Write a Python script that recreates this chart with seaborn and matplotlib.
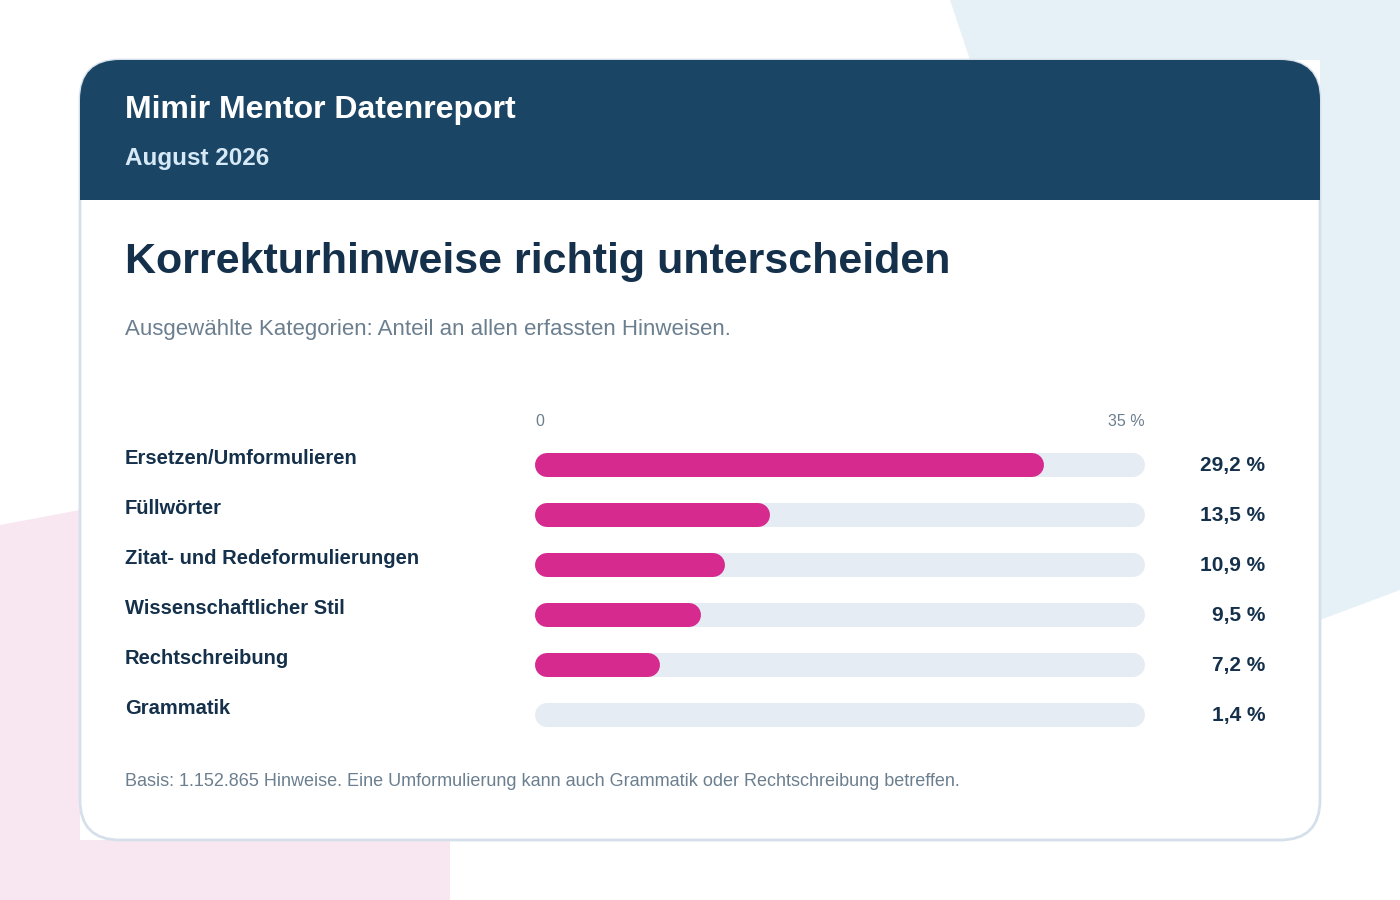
import matplotlib
matplotlib.use("Agg")
import matplotlib.pyplot as plt
from matplotlib.patches import FancyBboxPatch, Polygon, Rectangle
import seaborn as sns

categories = ["Ersetzen/Umformulieren", "Füllwörter", "Zitat- und Redeformulierungen",
              "Wissenschaftlicher Stil", "Rechtschreibung", "Grammatik"]
shares = [29.2, 13.5, 10.9, 9.5, 7.2, 1.4]
value_labels = ["29,2 %", "13,5 %", "10,9 %", "9,5 %", "7,2 %", "1,4 %"]
axis_max = 35

sns.set_theme(style="white")
plt.rcParams["font.family"] = ["Liberation Sans", "DejaVu Sans"]

W, H = 1400, 900
fig = plt.figure(figsize=(14, 9), dpi=100)
fig.patch.set_facecolor("white")

# background canvas in pixel coordinates
bg = fig.add_axes([0, 0, 1, 1])
bg.set_xlim(0, W)
bg.set_ylim(H, 0)
bg.axis("off")

bg.add_patch(Polygon([(950, 0), (1400, 0), (1400, 590), (1320, 620), (1320, 60), (970, 60)],
                     closed=True, color="#e6f1f7", lw=0))
bg.add_patch(Polygon([(0, 525), (80, 510), (80, 840), (450, 840), (450, 900), (0, 900)],
                     closed=True, color="#f8e7f0", lw=0))

# card
bg.add_patch(FancyBboxPatch((80, 60), 1240, 780, boxstyle="round,pad=0,rounding_size=40",
                            fc="white", ec="#d5e0ea", lw=2, zorder=2))
# header with rounded top only
header = FancyBboxPatch((80, 60), 1240, 140, boxstyle="round,pad=0,rounding_size=40",
                        fc="#1b4565", ec="none", zorder=3)
bg.add_patch(header)
bg.add_patch(Rectangle((80, 150), 1240, 50, fc="#1b4565", ec="none", zorder=3))

bg.text(125, 110, "Mimir Mentor Datenreport", color="white", fontsize=23,
        fontweight="bold", va="center", zorder=4)
bg.text(125, 158, "August 2026", color="#d6e9f6", fontsize=17.5,
        fontweight="bold", va="center", zorder=4)
bg.text(125, 262, "Korrekturhinweise richtig unterscheiden", color="#14304a",
        fontsize=31, fontweight="bold", va="center", zorder=4)
bg.text(125, 330, "Ausgewählte Kategorien: Anteil an allen erfassten Hinweisen.",
        color="#6b7f8f", fontsize=16, va="center", zorder=4)
bg.text(125, 781, "Basis: 1.152.865 Hinweise. Eine Umformulierung kann auch Grammatik "
        "oder Rechtschreibung betreffen.", color="#6b7f8f", fontsize=13, va="center", zorder=4)

# bar axes: x from 535 to 1145 px, rows centred at 465..715
left, right = 535, 1145
top, bottom = 440, 740
ax = fig.add_axes([left / W, 1 - bottom / H, (right - left) / W, (bottom - top) / H])
ax.set_xlim(0, axis_max)
ax.set_ylim(len(categories) - 0.5, -0.5)
ax.patch.set_alpha(0)
ax.axis("off")
ax.set_zorder(5)

bar_px = 24
lw_pt = bar_px * 72 / 100
cap = (bar_px / 2) / (right - left) * axis_max
for i, (cat, v, lab) in enumerate(zip(categories, shares, value_labels)):
    ax.plot([cap, axis_max - cap], [i, i], color="#e5ecf4", lw=lw_pt, solid_capstyle="round")
    x1 = max(v - cap, cap)
    ax.plot([cap, x1], [i, i], color="#d62a8e", lw=lw_pt, solid_capstyle="round")
    y_px = 465 + 50 * i
    bg.text(125, y_px - 7, cat, color="#14304a", fontsize=14.5, fontweight="bold",
            va="center", zorder=4)
    bg.text(1265, y_px + 1, lab, color="#14304a", fontsize=15, fontweight="bold",
            va="center", ha="right", zorder=4)

bg.text(535, 422, "0", color="#6b7f8f", fontsize=11.5, va="center", zorder=4)
bg.text(1145, 422, "35 %", color="#6b7f8f", fontsize=11.5, va="center", ha="right", zorder=4)

fig.savefig("out.png", dpi=100)
